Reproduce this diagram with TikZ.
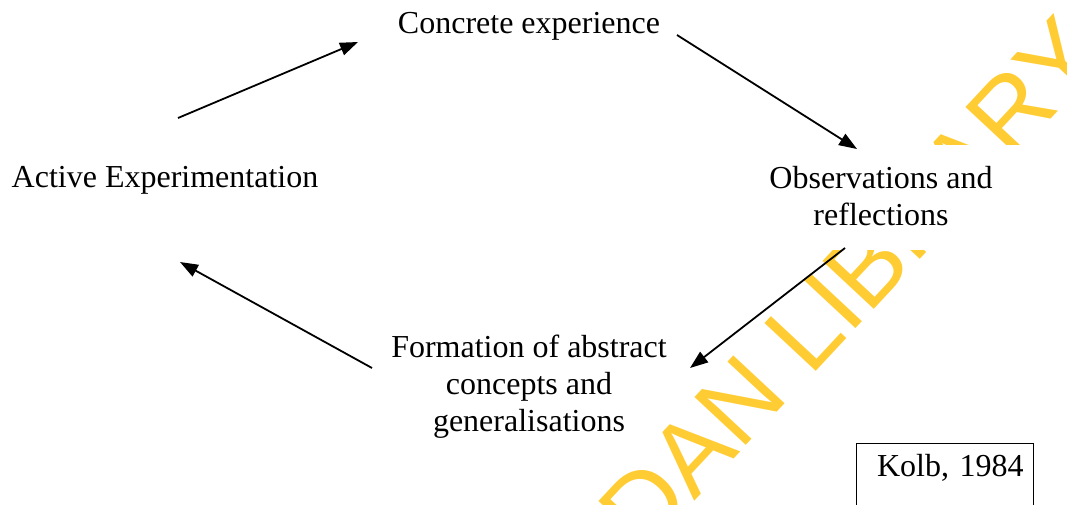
\documentclass[tikz,border=0pt]{standalone}
\usepackage{fontspec}
\setmainfont{Liberation Serif}
\newfontfamily\wmfont{Liberation Sans}
\usetikzlibrary{arrows.meta}
\definecolor{wmyellow}{RGB}{255,204,51}
\begin{document}
\begin{tikzpicture}[x=1pt,y=-1pt,
  lbl/.style={font=\fontsize{32}{37}\selectfont, inner sep=0pt, align=center},
  flow/.style={-{Triangle[length=18pt,width=13pt]}, line width=1.8pt},
  wm/.style={font=\wmfont\fontsize{102}{102}\selectfont, text=wmyellow, inner sep=0pt},
  mask/.style={fill=white, draw=none},
  srcbox/.style={draw, line width=1.4pt, inner xsep=10pt, inner ysep=0pt}
]
\useasboundingbox (0,0) rectangle (1067,504);
% watermark
\begin{scope}
  \clip (0,0) rectangle (1067,504);
  \node[wm, anchor=base west, rotate=47] (wm) at (532,676) {IBADAN LIBRARY};
  \fill[mask] (740,145) rectangle (1067,250);
\end{scope}
% texts
\node[lbl, anchor=base] (ce) at (529,33) {Concrete experience};
\node[lbl, anchor=base] (ae) at (165,187) {Active Experimentation};
\node[lbl, anchor=north] (or) at (881,166) {Observations and\\reflections};
\node[lbl, anchor=north] (fa) at (529,335) {Formation of abstract\\concepts and\\generalisations};
\node[srcbox, anchor=north west, font=\fontsize{32}{37}\selectfont,
      text width=157pt, align=right, text height=33pt, text depth=54pt] (kolb) at (856,443) {Kolb, 1984};
% arrows
\coordinate (a1s) at (178,118); \coordinate (a1e) at (358,42);
\coordinate (a2s) at (677,35);  \coordinate (a2e) at (857,149);
\coordinate (a3s) at (845,248); \coordinate (a3e) at (690,368);
\coordinate (a4s) at (372,368); \coordinate (a4e) at (180,262);
\draw[flow] (a1s) -- (a1e);
\draw[flow] (a2s) -- (a2e);
\draw[flow] (a3s) -- (a3e);
\draw[flow] (a4s) -- (a4e);
\end{tikzpicture}
\end{document}
